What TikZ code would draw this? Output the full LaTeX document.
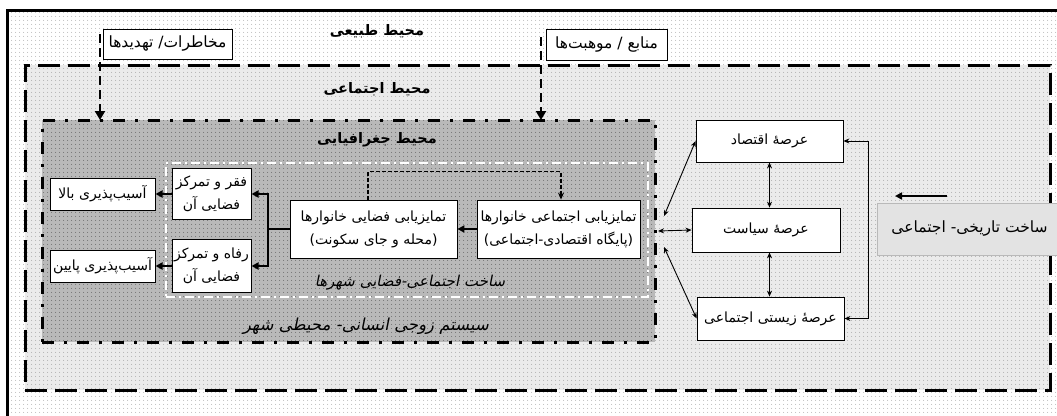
\documentclass[tikz,border=0pt]{standalone}
\usepackage{fontspec}
\usetikzlibrary{arrows.meta,patterns.meta}
\TeXXeTstate=1
\newfontfamily\fa[Script=Arabic]{DejaVu Sans}
\newfontfamily\fab[Script=Arabic]{DejaVu Sans Bold}
\newfontfamily\fai[Script=Arabic,FakeSlant=0.2]{DejaVu Sans}
\newcommand\RL[1]{\beginR #1\endR}
\begin{document}
\begin{tikzpicture}[x=1pt,y=-1pt,
  dotpat/.style={pattern={Dots[distance=4pt,radius=0.5pt]}},
  region/.style={anchor=north west,inner sep=0pt,outer sep=0pt},
  box/.style={draw=black,line width=0.8pt,fill=white,font=\fa\fontsize{14}{23}\selectfont,align=center,inner sep=1pt},
  boxb/.style={box,line width=1pt,font=\fa\fontsize{14}{23}\selectfont},
  title/.style={font=\fab\fontsize{14.5}{16}\selectfont},
  itl/.style={font=\fai\fontsize{15}{16}\selectfont},
  thk/.style={line width=2pt,-{Triangle[length=7pt,width=7pt]}},
  thn/.style={line width=0.9pt,{Stealth[length=6pt,width=5pt]}-{Stealth[length=6pt,width=5pt]}},
  nat/.style={line width=2.6pt,dash pattern=on 9pt off 5pt,-{Triangle[length=9pt,width=10pt]}},
]
\useasboundingbox (0,0) rectangle (1057,415);
\begin{scope}
\clip (0,0) rectangle (1057,415);
\node[region,draw,line width=3pt,minimum width=1063pt,minimum height=420pt,
  preaction={fill=white},preaction={dotpat,pattern color=gray!80}] (nat) at (7,10) {};
\node[region,draw,line width=3pt,dash pattern=on 22pt off 8pt,minimum width=1025pt,minimum height=325pt,
  preaction={fill=gray!16},preaction={dotpat,pattern color=gray!85}] (soc) at (25,65) {};
\node[region,draw,line width=3pt,dash pattern=on 12pt off 10pt on 3pt off 10pt,minimum width=613pt,minimum height=222pt,
  preaction={fill=gray!55},preaction={dotpat,pattern color=black!70}] (geo) at (42,120) {};
\node[region,draw=white,line width=1.5pt,dash pattern=on 9pt off 4pt on 2pt off 4pt,minimum width=482pt,minimum height=134pt] (city) at (166,163) {};

\node[title] (tnat) at (377,31) {\RL{محیط طبیعی}};
\node[title] (tsoc) at (377,89) {\RL{محیط اجتماعی}};
\node[title] (tgeo) at (377,140) {\RL{محیط جغرافیایی}};
\node[itl] (tcity) at (410,283) {\RL{ساخت اجتماعی-فضایی شهرها}};
\node[itl,font=\fai\fontsize{16.5}{17}\selectfont] (tsys) at (366,326) {\RL{سیستم زوجی انسانی- محیطی شهر}};

\node[box,font=\fa\fontsize{15.5}{17}\selectfont,minimum width=129pt,minimum height=30pt] (threat) at (167.5,44) {\RL{مخاطرات/ تهدیدها}};
\node[box,font=\fa\fontsize{15.5}{17}\selectfont,minimum width=121pt,minimum height=31pt] (res) at (606.5,44.5) {\RL{منابع / موهبت‌ها}};
\node[boxb,minimum width=105pt,minimum height=32pt] (high) at (102.5,194) {\RL{آسیب‌پذیری بالا}};
\node[boxb,minimum width=105pt,minimum height=32pt] (low) at (102.5,266) {\RL{آسیب‌پذیری پایین}};
\node[boxb,minimum width=79pt,minimum height=51pt] (pov) at (211.5,194) {\RL{فقر و تمرکز}\\\RL{فضایی آن}};
\node[boxb,minimum width=79pt,minimum height=53pt] (wel) at (211.5,266) {\RL{رفاه و تمرکز}\\\RL{فضایی آن}};
\node[box,minimum width=167pt,minimum height=58pt] (spat) at (373.5,229) {\RL{تمایزیابی فضایی خانوارها}\\\RL{(محله و جای سکونت)}};
\node[box,minimum width=163pt,minimum height=58pt] (soci) at (558.5,229) {\RL{تمایزیابی اجتماعی خانوارها}\\\RL{(پایگاه اقتصادی-اجتماعی)}};
\node[box,minimum width=147pt,minimum height=42pt] (econ) at (769.5,141) {\RL{عرصهٔ اقتصاد}};
\node[box,minimum width=148pt,minimum height=44pt] (pol) at (766,230) {\RL{عرصهٔ سیاست}};
\node[box,minimum width=147pt,minimum height=43pt] (life) at (770.5,318.5) {\RL{عرصهٔ زیستی اجتماعی}};
\node[box,font=\fa\fontsize{15.5}{17}\selectfont,fill=gray!22,draw=gray!55,minimum width=185pt,minimum height=52pt] (hist) at (969.5,229) {\RL{ساخت تاریخی- اجتماعی}};

\coordinate (tA) at (100,34);
\draw[nat] (tA) -- (tA |- geo.north);
\coordinate (rA) at (541,37);
\draw[nat] (rA) -- (rA |- geo.north);

\draw[thk] (soci.west) -- (spat.east);
\draw[thk] (pov.west) -- (high.east);
\draw[thk] (wel.west) -- (low.east);
\coordinate (bk) at (268,229);
\draw[line width=2pt] (spat.west) -- (bk);
\draw[thk] (bk) |- (pov.east);
\draw[thk] (bk) |- (wel.east);
\draw[line width=1.2pt,dash pattern=on 4pt off 2pt,-{Stealth[length=7pt,width=6pt]}] ([xshift=-5.5pt]spat.north) -- ++(0,-28) -| ([xshift=2.5pt]soci.north);

\coordinate (jh) at (658,231);
\draw[thn] (jh) -- (pol.west);
\coordinate (ju) at (664,216);
\draw[thn] (ju) -- (econ.west);
\coordinate (jd) at (664,247);
\draw[thn] (jd) -- (life.west);
\draw[thn] (econ.south) -- (econ.south |- pol.north);
\draw[thn] (pol.south -| econ.south) -- (life.north -| econ.south);
\coordinate (rb) at (868,0);
\draw[thn] (econ.east) -- (econ.east -| rb) -- (life.east -| rb) -- (life.east);
\coordinate (ha) at (947,196);
\coordinate (hb) at (895,196);
\draw[thk,line width=1.8pt] (ha) -- (hb);
\end{scope}
\end{tikzpicture}
\end{document}
